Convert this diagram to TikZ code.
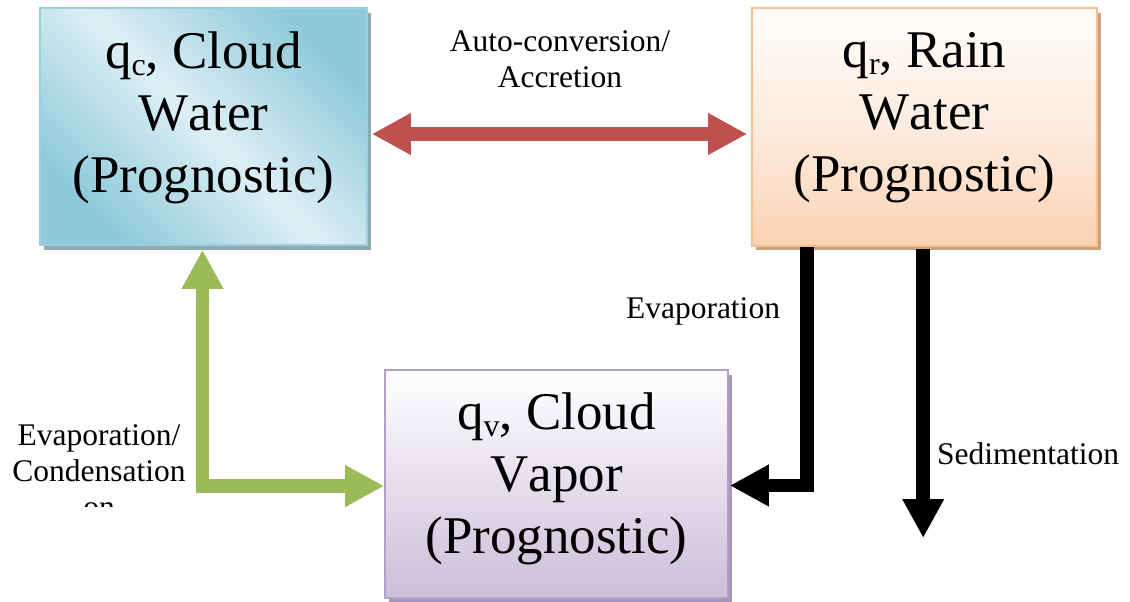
\documentclass[tikz,border=0pt]{standalone}
\usepackage{fontspec}
\setmainfont{Liberation Serif}[Kerning=Off]
\usetikzlibrary{arrows.meta,calc}

\definecolor{cwdark}{HTML}{8DC9DA}
\definecolor{cwlight}{HTML}{DDEFF5}
\definecolor{cwedge}{HTML}{9CD0DE}
\definecolor{cwshade}{HTML}{8FA8B2}
\definecolor{rwtop}{HTML}{FFFDFB}
\definecolor{rwmid}{HTML}{FDECDF}
\definecolor{rwbot}{HTML}{FAD2B2}
\definecolor{rwedge}{HTML}{F8BE8E}
\definecolor{rwshade}{HTML}{C9A283}
\definecolor{vptop}{HTML}{FFFFFF}
\definecolor{vpbot}{HTML}{CBBED9}
\definecolor{vpedge}{HTML}{B2A1C7}
\definecolor{vpshade}{HTML}{A697BA}
\definecolor{convred}{HTML}{C0504D}
\definecolor{condgreen}{HTML}{9BBB59}

\newcommand{\qsub}[1]{\raisebox{-7pt}{\fontsize{32}{32}\selectfont #1}}

\begin{document}
\begin{tikzpicture}[x=1pt,y=-1pt,
  box/.style={rectangle, inner sep=0pt, line width=1.6pt},
  boxtext/.style={align=center, font=\fontsize{53}{62}\selectfont, inner sep=0pt, anchor=base},
  lbl/.style={align=center, font=\fontsize{31.5}{36}\selectfont, inner sep=0pt, anchor=base},
  flow/.style={line width=13.5pt, line join=miter},
  tip/.tip={Triangle[width=39pt,length=39pt]}]

\useasboundingbox (0,0) rectangle (1130,602);

% drop shadows of the three boxes
\fill[cwshade] (44,13) rectangle (371,250);
\fill[rwshade] (756,13) rectangle (1101,250);
\fill[vpshade] (389,375) rectangle (732,602);

% boxes
\node[box, draw=cwedge, top color=cwdark, bottom color=cwdark, middle color=cwlight,
      shading angle=-45, minimum width=327pt, minimum height=237pt] (cw) at (203.5,126.5) {};
\node[box, draw=rwedge, top color=rwtop, bottom color=rwbot, middle color=rwmid,
      minimum width=345pt, minimum height=238pt] (rw) at (924.5,127) {};
\node[box, draw=vpedge, top color=vptop, bottom color=vpbot,
      minimum width=343pt, minimum height=228pt] (vp) at (556.5,484) {};

% box texts (placed by the baseline of their last line)
\node[boxtext] (cwtext) at (203.5,192) {q\qsub{c}, Cloud\\Water\\(Prognostic)};
\node[boxtext] (rwtext) at (924.5,191) {q\qsub{r}, Rain\\Water\\(Prognostic)};
\node[boxtext] (vptext) at (556.5,553) {q\qsub{v}, Cloud\\Vapor\\(Prognostic)};

% process arrows
\coordinate (ra) at ($(cw.east)+(4,7.5)$);
\coordinate (rb) at ($(ra -| rw.west)+(-4,0)$);
\draw[flow, line width=14pt, convred, tip-tip] (ra) -- (rb);

\coordinate (ga) at ($(cw.south)+(-1,4)$);
\coordinate (gb) at ($(vp.west)+(0,2)$);
\draw[flow, condgreen, tip-tip] (ga) -- (ga |- gb) -- (gb);

\coordinate (ea) at ($(rw.south west)+(56,0)$);
\coordinate (eb) at ($(vp.east)+(1,1.5)$);
\draw[flow, black, -tip] (ea) -- (ea |- eb) -- (eb);

\coordinate (sa) at ($(rw.south west)+(172,2)$);
\coordinate (sb) at (sa |- 0,538);
\draw[flow, black, -tip] (sa) -- (sb);

% process labels
\node[lbl] (convlbl) at (560,88) {Auto-conversion/\\Accretion};
\node[lbl] (evaplbl) at (703,318) {Evaporation};
\node[lbl, anchor=base west] (sedlbl) at (937,464) {Sedimentation};
\begin{scope}
  \clip (0,380) rectangle (380,506.5);
  \node[lbl] (condlbl) at (99,517) {Evaporation/\\Condensation\\on};
\end{scope}
\end{tikzpicture}
\end{document}
